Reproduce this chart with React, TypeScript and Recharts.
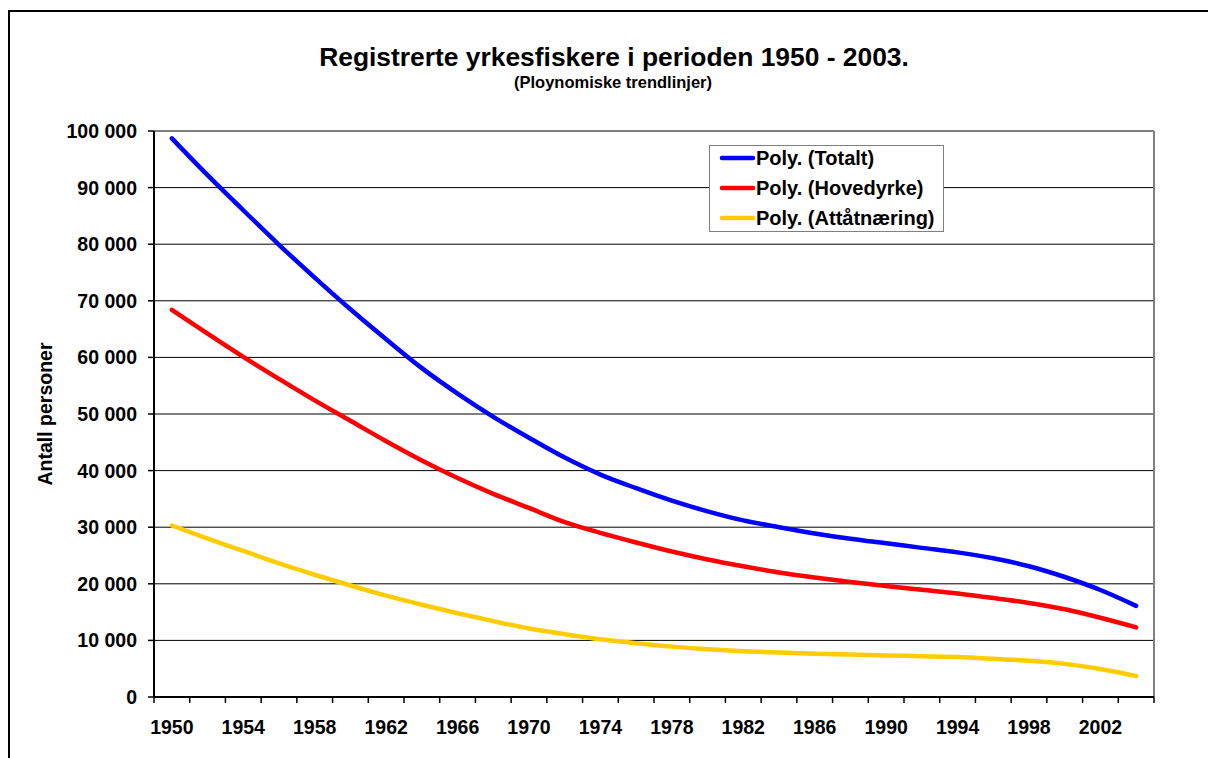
import React from 'react';
import { LineChart, Line, XAxis, YAxis, CartesianGrid, Legend, ReferenceLine } from 'recharts';

const years = [1950, 1952, 1954, 1956, 1958, 1960, 1962, 1964, 1966, 1968, 1970, 1972, 1974, 1976, 1978, 1980, 1982, 1984, 1986, 1988, 1990, 1992, 1994, 1996, 1998, 2000, 2002, 2003];
const totalt = [98700, 92200, 86000, 79900, 74100, 68500, 63200, 58100, 53600, 49500, 45800, 42300, 39300, 36900, 34700, 32800, 31200, 30000, 28900, 27950, 27150, 26350, 25550, 24500, 23100, 21200, 18900, 16100];
const hovedyrke = [68400, 64200, 60100, 56200, 52400, 48800, 45200, 41800, 38700, 35900, 33400, 30900, 29000, 27300, 25700, 24300, 23100, 22000, 21100, 20300, 19600, 18950, 18300, 17500, 16600, 15500, 14000, 12300];
const attatnaering = [30300, 28000, 25800, 23600, 21600, 19700, 17900, 16300, 14800, 13400, 12100, 11100, 10200, 9500, 8900, 8450, 8100, 7850, 7650, 7500, 7350, 7200, 7050, 6750, 6400, 5850, 4950, 3700];
const yTicks = [0, 10000, 20000, 30000, 40000, 50000, 60000, 70000, 80000, 90000, 100000];
const seriesNames = ['Poly. (Totalt)', 'Poly. (Hovedyrke)', 'Poly. (Attåtnæring)'];
const seriesColors = ['#0000FF', '#FF0000', '#FFCC00'];

const data = years.map((year, i) => ({
  idx: i,
  year,
  totalt: totalt[i],
  hovedyrke: hovedyrke[i],
  attatnaering: attatnaering[i],
}));

const boundaryTicks = years.map((_, i) => i - 0.5).concat([years.length - 0.5]);
const labelTicks = years.map((_, i) => i).filter((i) => i % 2 === 0);
const xTicks = [...boundaryTicks, ...labelTicks].sort((a, b) => a - b);

const FONT = "'Liberation Sans', Arial, Helvetica, sans-serif";

const fmt = (v: number) => String(v).replace(/\B(?=(\d{3})+(?!\d))/g, ' ');

const XTick = (props: any) => {
  const { x, y, payload } = props;
  const v = payload.value as number;
  if (!Number.isInteger(v)) {
    return <line x1={x} y1={y} x2={x} y2={y + 6} stroke="#000" strokeWidth={1.5} />;
  }
  return (
    <text x={x} y={y + 37} textAnchor="middle" fontFamily={FONT} fontWeight="bold" fontSize={19.5} fill="#000">
      {years[v]}
    </text>
  );
};

const LegendContent = (props: any) => {
  const payload = [...(props.payload || [])].sort(
    (a: any, b: any) => seriesNames.indexOf(a.value) - seriesNames.indexOf(b.value)
  );
  return (
    <div
      style={{
        border: '1px solid #808080',
        background: '#fff',
        width: 233,
        height: 85,
        boxSizing: 'content-box',
        fontFamily: FONT,
        fontWeight: 'bold',
        fontSize: 20,
        color: '#000',
      }}
    >
      {payload.map((p: any, i: number) => (
        <div key={i} style={{ display: 'flex', alignItems: 'center', height: 30, marginTop: i === 0 ? -3 : 0, lineHeight: '30px' }}>
          <svg width={46} height={10} style={{ display: 'block' }}>
            <line x1={12} y1={5} x2={43} y2={5} stroke={p.color} strokeWidth={4.5} strokeLinecap="round" />
          </svg>
          <span style={{ whiteSpace: 'nowrap' }}>{p.value}</span>
        </div>
      ))}
    </div>
  );
};

export default function App() {
  return (
    <div style={{ position: 'absolute', left: 0, top: 0, width: 1208, height: 758, overflow: 'hidden', background: '#fff' }}>
      <div style={{ position: 'absolute', left: 0, top: 0 }}>
        <LineChart width={1208} height={758} data={data} margin={{ top: 131, right: 54, bottom: 0, left: 0 }}>
          <CartesianGrid vertical={false} stroke="#000" strokeWidth={1} />
          <XAxis
            dataKey="idx"
            type="number"
            domain={[-0.5, years.length - 0.5]}
            ticks={xTicks}
            interval={0}
            tick={<XTick />}
            tickLine={false}
            tickSize={0}
            tickMargin={0}
            height={61}
            axisLine={{ stroke: '#000', strokeWidth: 2 }}
            allowDataOverflow
          />
          <YAxis
            domain={[0, 100000]}
            ticks={yTicks}
            interval={0}
            width={154}
            tickFormatter={fmt}
            tickSize={6}
            tickMargin={11}
            tickLine={{ stroke: '#000', strokeWidth: 1.5 }}
            axisLine={{ stroke: '#000', strokeWidth: 2 }}
            tick={{ fontFamily: FONT, fontWeight: 'bold', fontSize: 19.5, fill: '#000' }}
          />
          <ReferenceLine x={years.length - 0.5} stroke="#808080" strokeWidth={2} />
          <Legend
            layout="vertical"
            align="center"
            verticalAlign="middle"
            content={<LegendContent />}
            wrapperStyle={{ position: 'absolute', left: 709, top: 145, width: 236, height: 88 }}
          />
          <Line name={seriesNames[0]} type="monotone" dataKey="totalt" stroke={seriesColors[0]} strokeWidth={4.5} strokeLinecap="round" dot={false} isAnimationActive={false} />
          <Line name={seriesNames[1]} type="monotone" dataKey="hovedyrke" stroke={seriesColors[1]} strokeWidth={4.5} strokeLinecap="round" dot={false} isAnimationActive={false} />
          <Line name={seriesNames[2]} type="monotone" dataKey="attatnaering" stroke={seriesColors[2]} strokeWidth={4.5} strokeLinecap="round" dot={false} isAnimationActive={false} />
        </LineChart>
      </div>
      <div style={{ position: 'absolute', left: 1190, top: 0, width: 18, height: 758, background: '#fff' }} />
      <div style={{ position: 'absolute', left: 8, top: 10, width: 1200, height: 2, background: '#000' }} />
      <div style={{ position: 'absolute', left: 8, top: 10, width: 2, height: 748, background: '#000' }} />
      <svg width={1208} height={758} style={{ position: 'absolute', left: 0, top: 0, pointerEvents: 'none' }}>
        <text x={614} y={66} textAnchor="middle" fontFamily={FONT} fontWeight="bold" fontSize={26.4} fill="#000">
          Registrerte yrkesfiskere i perioden 1950 - 2003.
        </text>
        <text x={613} y={88} textAnchor="middle" fontFamily={FONT} fontWeight="bold" fontSize={16.5} fill="#000">
          (Ploynomiske trendlinjer)
        </text>
        <text transform="translate(45,414) rotate(-90)" x={0} y={7} textAnchor="middle" fontFamily={FONT} fontWeight="bold" fontSize={19.5} fill="#000">
          Antall personer
        </text>
      </svg>
    </div>
  );
}
